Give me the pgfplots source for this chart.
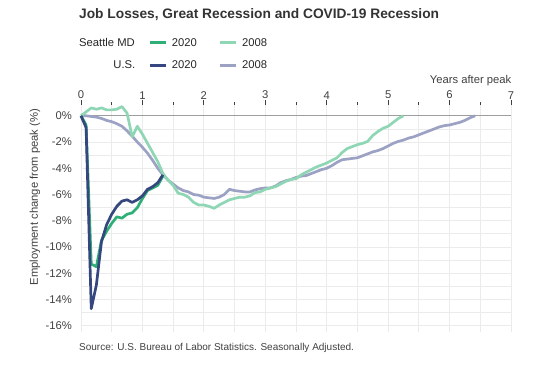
\documentclass[border=0pt]{standalone}
\usepackage{pgfplots}
\pgfplotsset{compat=1.18}
\usepackage{fontspec}
\setmainfont{Liberation Sans}
\definecolor{sea20}{HTML}{2DAF75}
\definecolor{sea08}{HTML}{8FD6B5}
\definecolor{us20}{HTML}{35477E}
\definecolor{us08}{HTML}{9CA2C3}
\definecolor{txt}{HTML}{404040}
\definecolor{gridc}{HTML}{EBEBEB}
\newcommand{\tf}{\fontsize{11.25bp}{13bp}\selectfont}
\begin{document}
\begin{tikzpicture}[x=1bp,y=1bp]
\useasboundingbox (0,0) rectangle (543,374);
\begin{axis}[
  at={(81bp,41.7bp)}, anchor=south west,
  scale only axis, width=430bp, height=227bp,
  xmin=0, xmax=7, ymin=-16.5, ymax=0.8,
  axis x line*=top, axis y line*=left,
  axis line style={draw=none},
  xtick={0,1,...,7},
  minor xtick={0.5,1.5,...,6.5},
  ytick={-16,-14,...,0},
  yticklabels={-16\%,-14\%,-12\%,-10\%,-8\%,-6\%,-4\%,-2\%,0\%},
  minor ytick={-15,-13,...,-1},
  grid=both,
  major grid style={gridc, line width=0.8bp},
  minor grid style={gridc, line width=0.8bp},
  xtick style={draw=txt, line width=0.8bp},
  major tick length=5bp,
  xtick align=outside,
  ytick style={draw=none},
  minor tick style={draw=none},
  /pgf/number format/assume math mode=true,
  xticklabel style={font=\tf, text=txt, inner sep=1bp},
  yticklabel style={font=\tf, text=txt, inner sep=0pt, xshift=-9bp},
  clip=false,
]
\addplot[color=black!38, line width=0.9bp, forget plot] coordinates {(0,0) (7,0)};
% U.S. 2008
\addplot[us08, line width=2.7bp, line join=round] coordinates {
(0,0)(0.083,0)(0.167,-0.05)(0.25,-0.1)(0.333,-0.2)(0.417,-0.35)(0.5,-0.45)(0.583,-0.6)(0.667,-0.8)(0.75,-1.15)(0.833,-1.55)(0.917,-2.0)(1.0,-2.4)(1.083,-2.85)(1.167,-3.4)(1.25,-4.0)(1.333,-4.5)(1.417,-4.9)(1.5,-5.2)(1.583,-5.5)(1.667,-5.7)(1.75,-5.8)(1.833,-6.0)(1.917,-6.05)(2.0,-6.2)(2.083,-6.25)(2.167,-6.3)(2.25,-6.2)(2.333,-6.0)(2.417,-5.6)(2.5,-5.7)(2.583,-5.75)(2.667,-5.8)(2.75,-5.8)(2.833,-5.65)(2.917,-5.55)(3.0,-5.5)(3.083,-5.5)(3.167,-5.35)(3.25,-5.1)(3.333,-4.95)(3.417,-4.85)(3.5,-4.7)(3.583,-4.6)(3.667,-4.55)(3.75,-4.4)(3.833,-4.25)(3.917,-4.1)(4.0,-4.0)(4.083,-3.8)(4.167,-3.55)(4.25,-3.35)(4.333,-3.3)(4.417,-3.25)(4.5,-3.2)(4.583,-3.05)(4.667,-2.9)(4.75,-2.75)(4.833,-2.65)(4.917,-2.5)(5.0,-2.3)(5.083,-2.1)(5.167,-1.95)(5.25,-1.85)(5.333,-1.7)(5.417,-1.6)(5.5,-1.45)(5.583,-1.3)(5.667,-1.15)(5.75,-1.0)(5.833,-0.85)(5.917,-0.75)(6.0,-0.7)(6.083,-0.6)(6.167,-0.5)(6.25,-0.35)(6.333,-0.15)(6.417,0)
};
% Seattle 2008
\addplot[sea08, line width=2.7bp, line join=round] coordinates {
(0,0)(0.083,0.3)(0.167,0.6)(0.25,0.5)(0.333,0.6)(0.417,0.45)(0.5,0.45)(0.583,0.5)(0.667,0.7)(0.75,0.2)(0.833,-1.6)(0.917,-0.8)(1.0,-1.4)(1.083,-2.1)(1.167,-2.8)(1.25,-3.5)(1.333,-4.4)(1.417,-4.9)(1.5,-5.3)(1.583,-5.9)(1.667,-6.0)(1.75,-6.2)(1.833,-6.6)(1.917,-6.8)(2.0,-6.8)(2.083,-6.9)(2.167,-7.05)(2.25,-6.8)(2.333,-6.6)(2.417,-6.4)(2.5,-6.3)(2.583,-6.2)(2.667,-6.2)(2.75,-6.1)(2.833,-5.85)(2.917,-5.8)(3.0,-5.6)(3.083,-5.5)(3.167,-5.4)(3.25,-5.2)(3.333,-5.0)(3.417,-4.85)(3.5,-4.8)(3.583,-4.5)(3.667,-4.3)(3.75,-4.1)(3.833,-3.9)(3.917,-3.75)(4.0,-3.6)(4.083,-3.4)(4.167,-3.2)(4.25,-2.8)(4.333,-2.5)(4.417,-2.35)(4.5,-2.2)(4.583,-2.1)(4.667,-1.95)(4.75,-1.5)(4.833,-1.2)(4.917,-0.95)(5.0,-0.8)(5.083,-0.5)(5.167,-0.2)(5.25,0)
};
% Seattle 2020
\addplot[sea20, line width=2.7bp, line join=round] coordinates {
(0,0)(0.083,-0.7)(0.167,-11.3)(0.25,-11.5)(0.333,-9.5)(0.417,-8.8)(0.5,-8.2)(0.583,-7.7)(0.667,-7.8)(0.75,-7.5)(0.833,-7.4)(0.917,-7.0)(1.0,-6.3)(1.083,-5.7)(1.167,-5.5)(1.25,-5.3)(1.333,-4.6)
};
% U.S. 2020
\addplot[us20, line width=2.7bp, line join=round] coordinates {
(0,0)(0.083,-0.9)(0.167,-14.7)(0.25,-12.9)(0.333,-9.6)(0.417,-8.3)(0.5,-7.5)(0.583,-6.9)(0.667,-6.5)(0.75,-6.4)(0.833,-6.6)(0.917,-6.4)(1.0,-6.1)(1.083,-5.6)(1.167,-5.4)(1.25,-5.1)(1.333,-4.5)
};
\end{axis}
% title and notes
\node[anchor=base west, inner sep=0pt, text=black!80, font=\fontsize{13.75bp}{16bp}\selectfont\bfseries] at (79,355.5) {Job Losses, Great Recession and COVID-19 Recession};
\node[anchor=base east, inner sep=0pt, text=txt, font=\tf] at (511.5,291) {Years after peak};
\node[rotate=90, inner sep=0pt, text=txt, font=\tf] at (35,177) {Employment change from peak (\%)};
\node[anchor=base west, inner sep=0pt, text=txt, font=\fontsize{10bp}{12bp}\selectfont] at (79,23.3) {Source: U.S. Bureau of Labor Statistics. Seasonally Adjusted.};
% legend
\node[anchor=west, inner sep=0pt, text=black!85, font=\tf] at (79,331.7) {Seattle MD};
\node[anchor=east, inner sep=0pt, text=black!85, font=\tf] at (135.5,309) {U.S.};
\draw[sea20, line width=3bp] (150,331.7) -- (166,331.7);
\draw[sea08, line width=3bp] (220,331.7) -- (236,331.7);
\draw[us20, line width=3bp] (150,309) -- (166,309);
\draw[us08, line width=3bp] (220,309) -- (236,309);
\node[anchor=west, inner sep=0pt, text=black!85, font=\tf] at (171.7,331.7) {2020};
\node[anchor=west, inner sep=0pt, text=black!85, font=\tf] at (242,331.7) {2008};
\node[anchor=west, inner sep=0pt, text=black!85, font=\tf] at (171.7,309) {2020};
\node[anchor=west, inner sep=0pt, text=black!85, font=\tf] at (242,309) {2008};
\end{tikzpicture}
\end{document}
